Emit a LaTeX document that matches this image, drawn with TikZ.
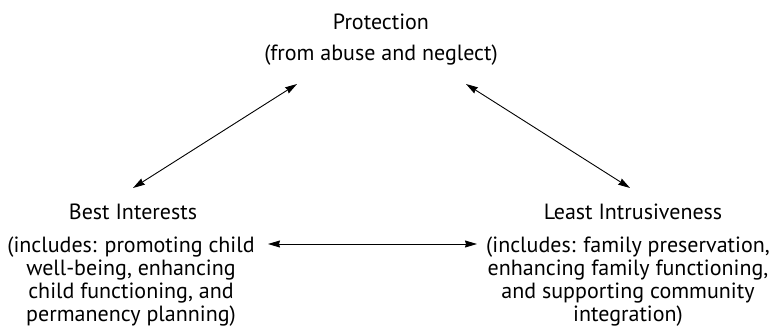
\documentclass[tikz,border=0pt]{standalone}
\usepackage{fontspec}
\setmainfont{PT Sans}
\usetikzlibrary{arrows.meta,calc}
\begin{document}
\begin{tikzpicture}[x=1pt,y=-1pt,
  txt/.style={font=\fontsize{22}{22.7}\selectfont, inner sep=0pt, align=center, anchor=base},
  link/.style={{Stealth[length=12pt,width=7pt,inset=1pt]}-{Stealth[length=12pt,width=7pt,inset=1pt]}, line width=0.9pt}]
\useasboundingbox (0,0) rectangle (771,329);
\node[txt] (prot) at (381,30) {Protection};
\node[txt] (protd) at (381,60) {(from abuse and neglect)};
\node[txt] (bi) at (133,219) {Best Interests};
% base anchor of a multi-line node is the baseline of its last line
\node[txt] (bid) at (131,321) {(includes: promoting child\\well-being, enhancing\\child functioning, and\\permanency planning)};
\node[txt] (li) at (633,219) {Least Intrusiveness};
\node[txt] (lid) at (628,321) {(includes: family preservation,\\enhancing family functioning,\\and supporting community\\integration)};
\coordinate (pl) at ($(protd.base)+(-84,24)$);
\coordinate (pr) at ($(protd.base)+(85,24)$);
\coordinate (bl) at ($(bi.base)+(0,-31)$);
\coordinate (br) at ($(li.base)+(-3,-31)$);
\coordinate (hl) at ($(bid.base)+(137,-77)$);
\coordinate (hr) at ($(lid.base)+(-151,-77)$);
\draw[link] (pl) -- (bl);
\draw[link] (pr) -- (br);
\draw[link] (hl) -- (hr);
\end{tikzpicture}
\end{document}
